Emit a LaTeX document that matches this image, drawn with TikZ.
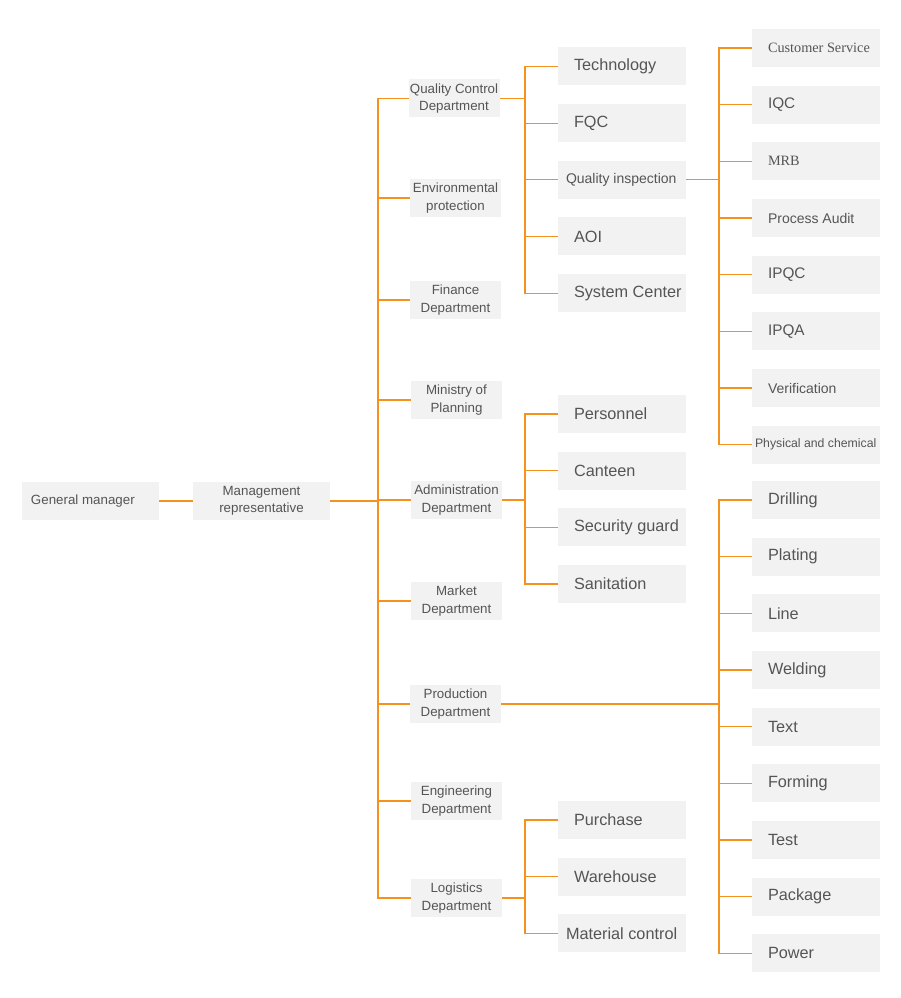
\documentclass[tikz,border=0pt]{standalone}
\usepackage{fontspec}
\setmainfont{Liberation Sans}
\newfontfamily\serifface{Liberation Serif}
\usepackage{tikz}
\usetikzlibrary{positioning}
\definecolor{Line}{HTML}{F5921E}
\definecolor{Box}{HTML}{F2F2F2}
\definecolor{Ink}{HTML}{555555}

\begin{document}
\begin{tikzpicture}[
  x=0.75pt,y=-0.75pt,
  node distance=14pt,
  boxw/.store in=\unitboxwidth,
  padded/.style={execute at begin node={\hbox to \unitboxwidth\bgroup},execute at end node={\hss\egroup}},
  head/.style={fill=Box,text=Ink,minimum width=102.75pt,minimum height=28.5pt,inner sep=0pt,outer sep=0pt,align=center,font=\fontsize{10}{13}\selectfont},
  dept/.style={fill=Box,text=Ink,minimum width=68.25pt,minimum height=28.5pt,inner sep=0pt,outer sep=0pt,align=center,font=\fontsize{10}{13}\selectfont},
  unit/.style={fill=Box,text=Ink,minimum width=96pt,minimum height=28.5pt,inner xsep=12pt,inner ysep=0pt,outer sep=0pt,boxw=72pt,padded,font=\fontsize{12.2}{14}\selectfont},
  wide/.style={inner xsep=6pt,boxw=84pt},
  link/.style={draw=Line,line width=0.85pt}
]
\useasboundingbox (0,0) rectangle (900,998);
\node[head,padded,inner xsep=6.75pt,boxw=89.25pt] (gm) at (90.5,501) {General manager};
\node[head] (rep) at (261.5,501) {Management\\representative};
\node[dept] (qc) at (454,98.5) {Quality Control\\Department};
\node[dept] (env) at (455.5,198) {Environmental\\protection};
\node[dept] (fin) at (455.5,300) {Finance\\Department};
\node[dept] (plan) at (456.5,400) {Ministry of\\Planning};
\node[dept] (adm) at (456.5,500) {Administration\\Department};
\node[dept] (mkt) at (456.5,601) {Market\\Department};
\node[dept] (prod) at (455.5,704) {Production\\Department};
\node[dept] (eng) at (456.5,801) {Engineering\\Department};
\node[dept] (log) at (456.5,898) {Logistics\\Department};
\node[unit] (tech) at (622,66.5) {Technology};
\node[unit,below=of tech] (fqc) {FQC};
\node[unit,wide,below=of fqc,font=\fontsize{10.5}{12}\selectfont] (insp) {Quality inspection};
\node[unit,below=of insp] (aoi) {AOI};
\node[unit,below=of aoi] (sys) {System Center};
\node[unit] (pers) at (622,414) {Personnel};
\node[unit,below=of pers] (cant) {Canteen};
\node[unit,below=of cant] (sec) {Security guard};
\node[unit,below=of sec] (san) {Sanitation};
\node[unit] (pur) at (622,820) {Purchase};
\node[unit,below=of pur] (ware) {Warehouse};
\node[unit,wide,below=of ware] (mat) {Material control};
\node[unit,font=\serifface\fontsize{10.7}{13}\selectfont] (cs) at (816,48) {Customer Service};
\node[unit,below=of cs,font=\fontsize{11.5}{14}\selectfont] (iqc) {IQC};
\node[unit,below=of iqc,font=\serifface\fontsize{10.7}{13}\selectfont] (mrb) {MRB};
\node[unit,below=of mrb,font=\fontsize{10.5}{13}\selectfont] (audit) {Process Audit};
\node[unit,below=of audit,font=\fontsize{11.5}{14}\selectfont] (ipqc) {IPQC};
\node[unit,below=of ipqc,font=\fontsize{11.5}{14}\selectfont] (ipqa) {IPQA};
\node[unit,below=of ipqa,font=\fontsize{10.5}{13}\selectfont] (verif) {Verification};
\node[unit,below=of verif,inner xsep=2.25pt,boxw=91.5pt,font=\fontsize{9.2}{11}\selectfont] (phys) {Physical and chemical};
\node[unit] (drill) at (816,500) {Drilling};
\node[unit,below=of drill] (plat) {Plating};
\node[unit,below=of plat] (pline) {Line};
\node[unit,below=of pline] (weld) {Welding};
\node[unit,below=of weld] (ptext) {Text};
\node[unit,below=of ptext] (form) {Forming};
\node[unit,below=of form] (ptest) {Test};
\node[unit,below=of ptest] (pack) {Package};
\node[unit,below=of pack] (pow) {Power};
\coordinate (trunk) at (378,501);
\coordinate (qcj) at (525,98.5);
\coordinate (inspj) at ([xshift=24.75pt]insp.east);
\coordinate (admj) at (525,500);
\coordinate (prodj) at (719,704);
\coordinate (logj) at (525,898);
\draw[link] (gm) -- (rep);
\draw[link] (rep) -- (trunk);
\foreach \d in {qc,env,fin,plan,adm,mkt,prod,eng,log}
  \draw[link] (trunk) |- (\d.west);
\draw[link] (qc) -- (qcj);
\foreach \c in {tech,fqc,insp,aoi,sys}
  \draw[link] (qcj) |- (\c.west);
\draw[link] (insp) -- (inspj);
\foreach \c in {cs,iqc,mrb,audit,ipqc,ipqa,verif,phys}
  \draw[link] (inspj) |- (\c.west);
\draw[link] (adm) -- (admj);
\foreach \c in {pers,cant,sec,san}
  \draw[link] (admj) |- (\c.west);
\draw[link] (prod) -- (prodj);
\foreach \c in {drill,plat,pline,weld,ptext,form,ptest,pack,pow}
  \draw[link] (prodj) |- (\c.west);
\draw[link] (log) -- (logj);
\foreach \c in {pur,ware,mat}
  \draw[link] (logj) |- (\c.west);
\end{tikzpicture}
\end{document}
